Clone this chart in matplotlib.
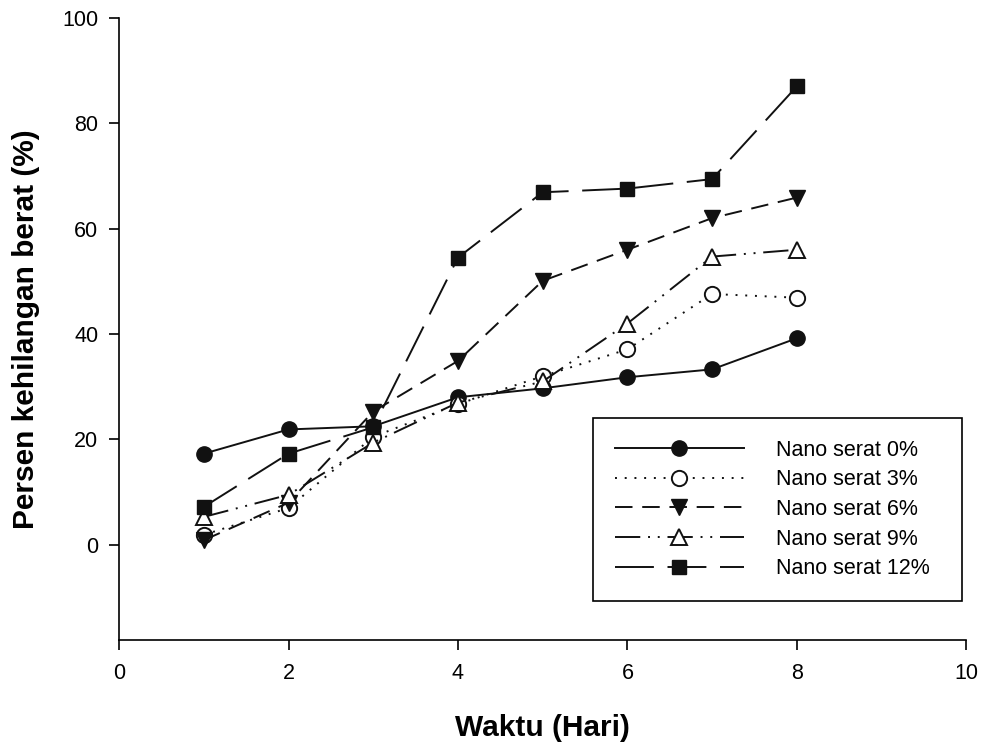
import numpy as np
import matplotlib as mpl
import matplotlib.pyplot as plt

mpl.use("agg")
plt.rcParams["font.family"] = ["Liberation Sans", "DejaVu Sans"]

# data
hari = [1, 2, 3, 4, 5, 6, 7, 8]
nano_0 = [17.3, 21.9, 22.5, 28.0, 29.7, 31.8, 33.3, 39.2]
nano_3 = [1.9, 7.0, 20.5, 26.7, 32.0, 37.1, 47.6, 46.9]
nano_6 = [0.9, 8.0, 25.3, 34.9, 50.1, 56.0, 62.0, 65.9]
nano_9 = [5.3, 9.5, 19.4, 27.0, 31.0, 42.0, 54.7, 56.0]
nano_12 = [7.2, 17.3, 22.3, 54.5, 66.9, 67.6, 69.4, 87.0]

labels = ["Nano serat 0%", "Nano serat 3%", "Nano serat 6%", "Nano serat 9%", "Nano serat 12%"]

fig = plt.figure(figsize=(9.84, 7.43), dpi=100)
ax = fig.add_axes([0.121, 0.139, 0.861, 0.837])

k = "#111111"
ax.plot(hari, nano_0, color=k, lw=1.4, ls="-", marker="o", ms=11, mfc=k, mec=k, label=labels[0])
ax.plot(hari, nano_3, color=k, lw=1.4, ls=(0, (1, 4)), marker="o", ms=11, mfc="white", mec=k, mew=1.4, label=labels[1])
ax.plot(hari, nano_6, color=k, lw=1.4, ls=(0, (9, 5)), marker="v", ms=11, mfc=k, mec=k, label=labels[2])
ax.plot(hari, nano_9, color=k, lw=1.4, ls=(0, (13, 4, 1, 4, 1, 4)), marker="^", ms=11, mfc="white", mec=k, mew=1.4, label=labels[3])
ax.plot(hari, nano_12, color=k, lw=1.4, ls=(0, (20, 7)), marker="s", ms=10, mfc=k, mec=k, label=labels[4])

ax.set_xlim(0, 10)
ax.set_ylim(-18, 100)
ax.set_xticks([0, 2, 4, 6, 8, 10])
ax.set_yticks([0, 20, 40, 60, 80, 100])
ax.spines["top"].set_visible(False)
ax.spines["right"].set_visible(False)
ax.spines["left"].set_linewidth(1.2)
ax.spines["bottom"].set_linewidth(1.2)
ax.tick_params(direction="out", length=7, width=1.2, labelsize=15.5)
ax.tick_params(axis="x", pad=10)
ax.tick_params(axis="y", pad=8)

ax.set_xlabel("Waktu (Hari)", fontsize=21.5, fontweight="bold", labelpad=21)
ax.set_ylabel("Persen kehilangan berat (%)", fontsize=21.5, fontweight="bold", labelpad=16)

leg = ax.legend(loc="lower left", bbox_to_anchor=(0.5596, 0.0627, 0.4357, 0.296), mode="expand",
                borderaxespad=0, fontsize=15.5, handlelength=6.0, handletextpad=1.5, labelspacing=0.4,
                fancybox=False, edgecolor="black", framealpha=1, borderpad=1.0)
leg.get_frame().set_linewidth(1.2)

plt.savefig("out.png", dpi=100)
